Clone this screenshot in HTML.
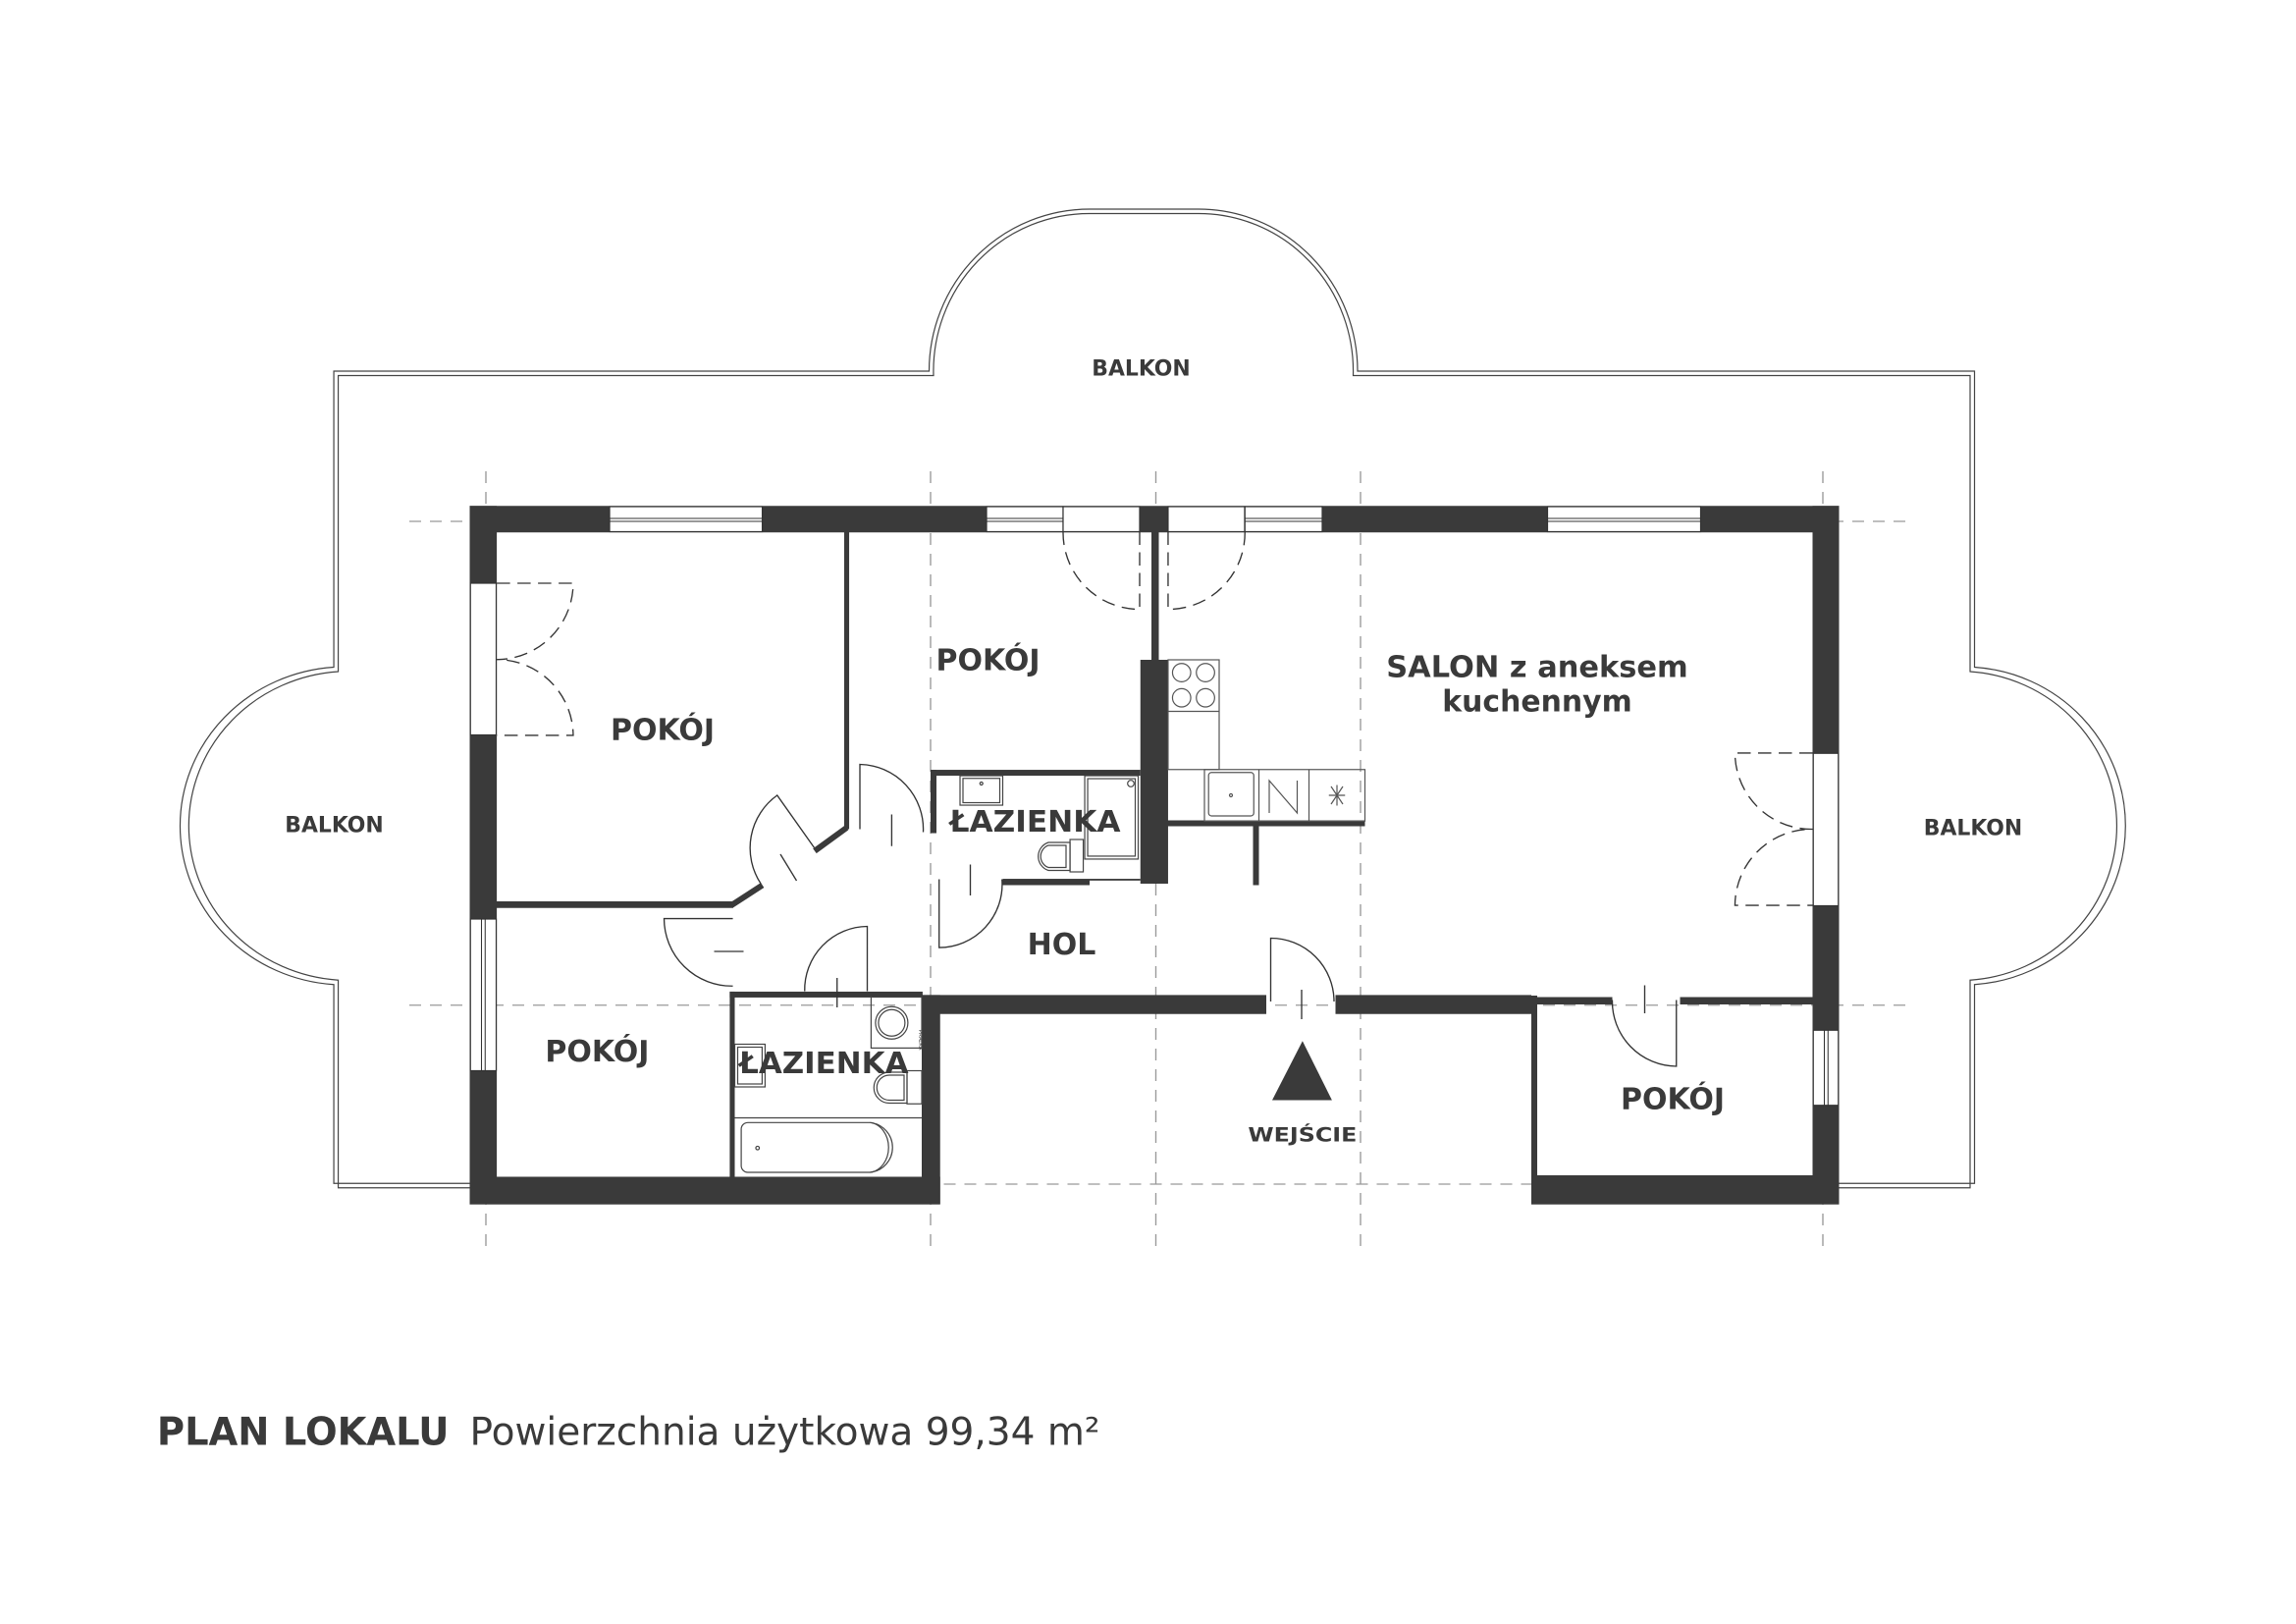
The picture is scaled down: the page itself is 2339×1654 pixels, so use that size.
<!DOCTYPE html>
<html><head><meta charset="utf-8"><style>
html,body{margin:0;padding:0;background:#fff;}
svg{display:block;}
.t{font-family:"DejaVu Sans","Liberation Sans",sans-serif;font-weight:bold;fill:#3a3a3a;}
</style></head><body>
<svg width="2339" height="1654" viewBox="0 0 1559.33 1102.67" xmlns="http://www.w3.org/2000/svg">
<rect width="1559.33" height="1102.67" fill="#fff"/>
<!-- balcony double outline -->
<g fill="none" stroke="#444" stroke-width="0.8">
<path d="M319,803.5 L226.7,803.5 L226.7,668.5 A112,108 0 0 1 226.7,453 L226.7,252 L631,252 A109,110 0 0 1 740,142 L814,142 A108,110 0 0 1 922,252 L1341,252 L1341,453 A110,108 0 0 1 1341,668.5 L1341,803.5 L1249,803.5"/>
<path d="M319,806.5 L229.7,806.5 L229.7,665.5 A109,105 0 0 1 229.7,456 L229.7,255 L634,255 A106,107 0 0 1 740,145 L814,145 A105,107 0 0 1 919,255 L1338,255 L1338,456 A107,105 0 0 1 1338,665.5 L1338,806.5 L1249,806.5"/>
</g>
<!-- dashed grid -->
<g stroke="#999" stroke-width="0.9" stroke-dasharray="8,6" fill="none">
<line x1="278" y1="354" x2="1295" y2="354"/>
<line x1="278" y1="682.5" x2="1295" y2="682.5"/>
<line x1="641" y1="804" x2="1040" y2="804"/>
<line x1="330" y1="320" x2="330" y2="852"/>
<line x1="632" y1="320" x2="632" y2="852"/>
<line x1="785" y1="320" x2="785" y2="852"/>
<line x1="924" y1="320" x2="924" y2="852"/>
<line x1="1238" y1="320" x2="1238" y2="852"/>
</g>
<!-- walls -->
<g fill="#3a3a3a">
<rect x="319" y="343.5" width="930" height="18"/>
<rect x="319" y="343.5" width="18.4" height="474"/>
<rect x="1231" y="343.5" width="18" height="474"/>
<rect x="319" y="799" width="319.5" height="18.8"/>
<rect x="1040" y="798" width="209" height="19.8"/>
<rect x="626" y="675.6" width="234" height="12.9"/>
<rect x="626" y="675.6" width="12.5" height="142"/>
<rect x="907" y="675.6" width="133" height="12.9"/>
<rect x="1040" y="676" width="4" height="130"/>
<rect x="1040" y="677" width="55" height="5"/>
<rect x="1141" y="677" width="90" height="5"/>
<rect x="495.6" y="673.3" width="131" height="4"/>
<rect x="495.6" y="673.3" width="3.4" height="126"/>
<rect x="337" y="612" width="161" height="4.5"/>
<rect x="573.3" y="361" width="3.4" height="202"/>
<rect x="632" y="522.7" width="142.5" height="4"/>
<rect x="632" y="522.7" width="4" height="43"/>
<rect x="681" y="596.7" width="59" height="4.3"/>
<rect x="774.5" y="448" width="18.8" height="152"/>
<rect x="782" y="361" width="5" height="88"/>
<rect x="793" y="557" width="134" height="4"/>
<rect x="851" y="561" width="4" height="40"/>
<rect x="740" y="596.7" width="34.5" height="1.2"/>
</g>
<g stroke="#3a3a3a" stroke-width="4" fill="none">
<line x1="575" y1="562" x2="553.3" y2="577.8"/>
<line x1="517.8" y1="601" x2="497" y2="614.5"/>
</g>
<!-- windows / openings in walls -->
<g fill="#fff" stroke="#333" stroke-width="0.8">
<rect x="414" y="344" width="103.7" height="17"/>
<rect x="670" y="344" width="52" height="17"/>
<rect x="722" y="344" width="52" height="17"/>
<rect x="793.3" y="344" width="52" height="17"/>
<rect x="845.5" y="344" width="52.5" height="17"/>
<rect x="1051" y="344" width="104" height="17"/>
<rect x="319.5" y="396" width="17.5" height="103"/>
<rect x="319.5" y="624" width="17.5" height="103"/>
<rect x="1231.5" y="511.5" width="17" height="103.5"/>
<rect x="1231.5" y="699.5" width="17" height="51"/>
</g>
<g stroke="#333" stroke-width="0.7">
<line x1="414" y1="352" x2="517.7" y2="352"/><line x1="414" y1="354" x2="517.7" y2="354"/>
<line x1="670" y1="352" x2="722" y2="352"/><line x1="670" y1="354" x2="722" y2="354"/>
<line x1="845.5" y1="352" x2="898" y2="352"/><line x1="845.5" y1="354" x2="898" y2="354"/>
<line x1="1051" y1="352" x2="1155" y2="352"/><line x1="1051" y1="354" x2="1155" y2="354"/>
<line x1="327" y1="624" x2="327" y2="727"/><line x1="329.5" y1="624" x2="329.5" y2="727"/>
<line x1="1239" y1="699.5" x2="1239" y2="750.5"/><line x1="1241.5" y1="699.5" x2="1241.5" y2="750.5"/>
</g>
<!-- dashed balcony doors -->
<g fill="none" stroke="#333" stroke-width="0.9" stroke-dasharray="9,5">
<path d="M774,361 L774,413.7 A52,52 0 0 1 722,361"/>
<path d="M793.3,361 L793.3,413.7 A52,52 0 0 0 845.5,361"/>
<path d="M337.4,396 L389.3,396 A52,52 0 0 1 337.4,447.8 A52,52 0 0 1 389.3,499.3 L337.4,499.3"/>
<path d="M1231,511.3 L1178.3,511.3 A52,52 0 0 0 1231,563 A52,52 0 0 0 1178.3,614.7 L1231,614.7"/>
</g>
<!-- interior doors -->
<g fill="none" stroke="#333" stroke-width="0.9">
<path d="M863,680 L863,637 A43,43 0 0 1 906,680"/>
<path d="M1138.5,679 L1138.5,724 A44,44 0 0 1 1095,679"/>
<path d="M637.8,597 L637.8,643.4 A43,43 0 0 0 680.5,597"/>
<path d="M589,673 L589,629 A43,43 0 0 0 546.5,673"/>
<path d="M584,563 L584,519 A44,44 0 0 1 627,565"/>
<path d="M553,575.6 L527.8,540 A44,44 0 0 0 516.7,600"/>
<path d="M497.7,623.7 L451,623.7 A46,46 0 0 0 497.7,669.5"/>
<line x1="884" y1="672" x2="884" y2="692"/>
<line x1="1117" y1="669" x2="1117" y2="688"/>
<line x1="605.6" y1="553" x2="605.6" y2="574.5"/>
<line x1="659" y1="587" x2="659" y2="608"/>
<line x1="568.5" y1="664" x2="568.5" y2="684"/>
<line x1="530" y1="580" x2="541" y2="598"/>
<line x1="485" y1="646" x2="505" y2="646"/>
</g>
<!-- kitchen -->
<g fill="none" stroke="#555" stroke-width="0.8">
<rect x="793.3" y="448" width="34.7" height="74.5"/>
<line x1="793.3" y1="483" x2="828" y2="483"/>
<circle cx="802.5" cy="456.7" r="6.2"/><circle cx="818.7" cy="456.7" r="6.2"/>
<circle cx="802.5" cy="473.8" r="6.2"/><circle cx="818.7" cy="473.8" r="6.2"/>
<rect x="818" y="522.5" width="109" height="35"/>
<line x1="855" y1="522.5" x2="855" y2="557"/><line x1="889" y1="522.5" x2="889" y2="557"/>
<rect x="820.8" y="524.5" width="30.7" height="29.5" rx="2"/>
<circle cx="836" cy="540" r="1"/>
<path d="M862,552 L862,530 L881,552 L881,530"/>
<path d="M904,534 L912,546 M912,534 L904,546 M902.5,540 L913.5,540 M908,533 L908,547"/>
</g>
<!-- bathrooms -->
<g fill="none" stroke="#444" stroke-width="0.8">
<rect x="652" y="526.7" width="29" height="20"/><rect x="654" y="528.5" width="25" height="16.5"/>
<circle cx="666.5" cy="532" r="1"/>
<rect x="736.7" y="526.7" width="36.3" height="56.6"/><rect x="738.7" y="528.7" width="32.3" height="52.6"/>
<circle cx="768" cy="532" r="2.2"/>
<path d="M726.7,572 L712,572 A10,10 0 0 0 712,591 L726.7,591 Z"/>
<path d="M724,574 L712,574 A8,8 0 0 0 712,589 L724,589 Z"/>
<rect x="726.7" y="570" width="9" height="22"/>
<rect x="591.6" y="677" width="34.4" height="34.6"/>
<circle cx="605.6" cy="694.5" r="11"/><circle cx="605.6" cy="694.5" r="9"/>
<rect x="499" y="709" width="20.6" height="29"/><rect x="501" y="711" width="16.6" height="25"/>
<path d="M616,728 L604,728 A10.5,10.5 0 0 0 604,749 L616,749 Z"/>
<path d="M614,730 L604,730 A8.5,8.5 0 0 0 604,747 L614,747 Z"/>
<rect x="616" y="727" width="10" height="22.5"/>
<line x1="499" y1="759" x2="626" y2="759"/>
<path d="M508,762.2 L591,762.2 A17,17 0 0 1 591,796 L508,796 A4.5,4.5 0 0 1 503.4,791.5 L503.4,766.7 A4.5,4.5 0 0 1 508,762.2 Z"/>
<path d="M591,762.2 A14,17 0 0 1 591,796"/>
<circle cx="514.5" cy="779.5" r="1.2"/>
</g>
<text x="0" y="0" transform="translate(624,706) rotate(90)" font-family="Liberation Sans,sans-serif" font-size="3.5" fill="#444" text-anchor="middle">PRALKA</text>
<!-- labels -->
<g class="t" text-anchor="middle">
<text x="775" y="255" font-size="14.6">BALKON</text>
<text x="227" y="565" font-size="14.6">BALKON</text>
<text x="1340" y="567" font-size="14.6">BALKON</text>
<text x="450" y="502.5" font-size="20">POKÓJ</text>
<text x="671" y="455" font-size="20">POKÓJ</text>
<text x="405.6" y="720.6" font-size="20">POKÓJ</text>
<text x="1136" y="753" font-size="20">POKÓJ</text>
<text x="703" y="564.6" font-size="20" textLength="116" lengthAdjust="spacingAndGlyphs">ŁAZIENKA</text>
<text x="559.5" y="728.7" font-size="20" textLength="115" lengthAdjust="spacingAndGlyphs">ŁAZIENKA</text>
<text x="721" y="648" font-size="20">HOL</text>
<text x="1044" y="459.6" font-size="20" textLength="205" lengthAdjust="spacingAndGlyphs">SALON z aneksem</text>
<text x="1044" y="483" font-size="20" textLength="129" lengthAdjust="spacingAndGlyphs">kuchennym</text>
<text x="884.6" y="775" font-size="13.3" textLength="74" lengthAdjust="spacingAndGlyphs">WEJŚCIE</text>
</g>
<polygon points="884.6,706.8 864,747 904.6,747" fill="#3a3a3a"/>
<!-- footer -->
<text x="106.6" y="981" font-family="DejaVu Sans,Liberation Sans,sans-serif" font-size="26" font-weight="bold" fill="#3a3a3a" textLength="198.4" lengthAdjust="spacingAndGlyphs">PLAN LOKALU</text>
<text x="319" y="981" font-family="DejaVu Sans,Liberation Sans,sans-serif" font-size="26" fill="#3a3a3a" textLength="428" lengthAdjust="spacingAndGlyphs">Powierzchnia użytkowa 99,34 m²</text>
</svg>
</body></html>
